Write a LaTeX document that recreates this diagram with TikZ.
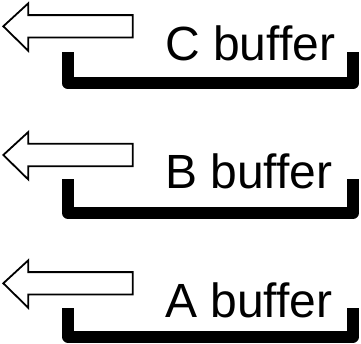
\documentclass[tikz,border=0pt]{standalone}
\usepackage{fontspec}
\setmainfont{Liberation Sans}
\begin{document}
\begin{tikzpicture}[x=1pt,y=-1pt,
  hollowarrow/.style={draw=black,fill=white,line width=1.8pt,line join=miter},
  bracketline/.style={draw=black,line width=12pt,line join=round,line cap=butt},
  label/.style={anchor=base west,inner sep=0pt,font=\fontsize{48}{48}\selectfont}]
  \useasboundingbox (0,0) rectangle (361,343);
  % one row: hollow left arrow, buffer label, thick bracket under the label
  % arrow centre y / label baseline / bracket top / bracket bar y / letter
  \foreach \ay/\by/\ty/\ly/\name in {26.3/60.5/52/83.3/C, 155/188.5/179/213/B, 283.3/317/308/336.5/A}{
    \draw[hollowarrow] (3.3,\ay) -- (28.3,\ay-23) -- (28.3,\ay-11.2) -- (132.7,\ay-11.2)
      -- (132.7,\ay+11.2) -- (28.3,\ay+11.2) -- (28.3,\ay+24.5) -- cycle;
    \node[label] (buf\name) at (165,\by) {\name\ buffer};
    \draw[bracketline] (68,\ty) -- (68,\ly) -- (353,\ly) -- (353,\ty);
  }
\end{tikzpicture}
\end{document}
